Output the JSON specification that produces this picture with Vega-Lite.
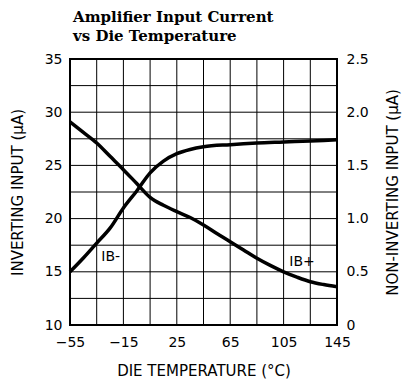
{
  "$schema": "https://vega.github.io/schema/vega-lite/v6.json",
  "autosize": "none",
  "width": 267,
  "height": 266,
  "padding": {"left": 70, "top": 59, "right": 67, "bottom": 56},
  "background": "white",
  "title": {
    "text": ["Amplifier Input Current", "vs Die Temperature"],
    "anchor": "start",
    "frame": "group",
    "font": "DejaVu Serif",
    "fontSize": 15,
    "fontWeight": "bold",
    "color": "black",
    "lineHeight": 19,
    "offset": 8,
    "dx": 3
  },
  "config": {
    "view": {"stroke": "black", "strokeWidth": 2},
    "axis": {
      "labelFont": "DejaVu Sans",
      "labelFontSize": 14,
      "labelColor": "black",
      "titleFont": "DejaVu Sans",
      "titleFontSize": 15,
      "titleFontWeight": "normal",
      "titleColor": "black",
      "ticks": false,
      "domain": false,
      "grid": false,
      "labelOverlap": false,
      "labelFlush": false
    }
  },
  "datasets": {
    "xgrid": [
      {"T": -35}, {"T": -15}, {"T": 5}, {"T": 25}, {"T": 45},
      {"T": 65}, {"T": 85}, {"T": 105}, {"T": 125}
    ],
    "ygrid": [
      {"v": 12.5}, {"v": 15}, {"v": 17.5}, {"v": 20}, {"v": 22.5},
      {"v": 25}, {"v": 27.5}, {"v": 30}, {"v": 32.5}
    ],
    "ibminus": [
      {"T": -55, "v": 15.0}, {"T": -45, "v": 16.3}, {"T": -35, "v": 17.7},
      {"T": -25, "v": 19.1}, {"T": -15, "v": 21.0}, {"T": -5, "v": 22.6},
      {"T": 5, "v": 24.3}, {"T": 15, "v": 25.4}, {"T": 25, "v": 26.1},
      {"T": 35, "v": 26.5}, {"T": 45, "v": 26.75}, {"T": 65, "v": 26.95},
      {"T": 85, "v": 27.1}, {"T": 105, "v": 27.2}, {"T": 125, "v": 27.3},
      {"T": 145, "v": 27.4}
    ],
    "ibplus": [
      {"T": -55, "v": 1.91}, {"T": -45, "v": 1.81}, {"T": -35, "v": 1.71},
      {"T": -25, "v": 1.585}, {"T": -15, "v": 1.46}, {"T": -5, "v": 1.33},
      {"T": 5, "v": 1.20}, {"T": 15, "v": 1.125}, {"T": 25, "v": 1.065},
      {"T": 35, "v": 1.01}, {"T": 45, "v": 0.94}, {"T": 55, "v": 0.86},
      {"T": 65, "v": 0.783}, {"T": 75, "v": 0.705}, {"T": 85, "v": 0.627},
      {"T": 95, "v": 0.56}, {"T": 105, "v": 0.50}, {"T": 115, "v": 0.45},
      {"T": 125, "v": 0.407}, {"T": 135, "v": 0.38}, {"T": 145, "v": 0.36}
    ],
    "labels": [
      {"T": -31.5, "v": 16.4, "label": "IB-"},
      {"T": 109.3, "v": 15.95, "label": "IB+"}
    ]
  },
  "layer": [
    {
      "layer": [
        {
          "data": {"name": "xgrid"},
          "mark": {"type": "rule", "color": "black", "strokeWidth": 1},
          "encoding": {
            "x": {
              "field": "T", "type": "quantitative",
              "scale": {"domain": [-55, 145], "nice": false, "zero": false},
              "axis": {
                "title": "DIE TEMPERATURE (°C)",
                "values": [-55, -15, 25, 65, 105, 145],
                "format": "d",
                "labelPadding": 10,
                "titlePadding": 14
              }
            }
          }
        },
        {
          "data": {"name": "ygrid"},
          "mark": {"type": "rule", "color": "black", "strokeWidth": 1},
          "encoding": {
            "y": {
              "field": "v", "type": "quantitative",
              "scale": {"domain": [10, 35], "nice": false, "zero": false},
              "axis": {
                "title": "INVERTING INPUT (μA)",
                "values": [10, 15, 20, 25, 30, 35],
                "format": "d",
                "labelPadding": 8,
                "titlePadding": 19
              }
            }
          }
        },
        {
          "data": {"name": "ibminus"},
          "mark": {"type": "line", "color": "black", "strokeWidth": 3.5, "interpolate": "monotone"},
          "encoding": {
            "x": {
              "field": "T", "type": "quantitative",
              "scale": {"domain": [-55, 145], "nice": false, "zero": false},
              "axis": {
                "title": "DIE TEMPERATURE (°C)",
                "values": [-55, -15, 25, 65, 105, 145],
                "format": "d",
                "labelPadding": 10,
                "titlePadding": 14
              }
            },
            "y": {
              "field": "v", "type": "quantitative",
              "scale": {"domain": [10, 35], "nice": false, "zero": false},
              "axis": {
                "title": "INVERTING INPUT (μA)",
                "values": [10, 15, 20, 25, 30, 35],
                "format": "d",
                "labelPadding": 8,
                "titlePadding": 19
              }
            }
          }
        },
        {
          "data": {"name": "labels"},
          "mark": {"type": "text", "align": "left", "baseline": "middle", "font": "DejaVu Sans", "fontSize": 14, "color": "black"},
          "encoding": {
            "x": {
              "field": "T", "type": "quantitative",
              "scale": {"domain": [-55, 145], "nice": false, "zero": false},
              "axis": {
                "title": "DIE TEMPERATURE (°C)",
                "values": [-55, -15, 25, 65, 105, 145],
                "format": "d",
                "labelPadding": 10,
                "titlePadding": 14
              }
            },
            "y": {
              "field": "v", "type": "quantitative",
              "scale": {"domain": [10, 35], "nice": false, "zero": false},
              "axis": {
                "title": "INVERTING INPUT (μA)",
                "values": [10, 15, 20, 25, 30, 35],
                "format": "d",
                "labelPadding": 8,
                "titlePadding": 19
              }
            },
            "text": {"field": "label"}
          }
        }
      ]
    },
    {
      "data": {"name": "ibplus"},
      "mark": {"type": "line", "color": "black", "strokeWidth": 3.5, "interpolate": "monotone"},
      "encoding": {
        "x": {
          "field": "T", "type": "quantitative",
          "scale": {"domain": [-55, 145], "nice": false, "zero": false},
          "axis": {
            "title": "DIE TEMPERATURE (°C)",
            "values": [-55, -15, 25, 65, 105, 145],
            "format": "d",
            "labelPadding": 10,
            "titlePadding": 14
          }
        },
        "y": {
          "field": "v", "type": "quantitative",
          "scale": {"domain": [0, 2.5], "nice": false, "zero": false},
          "axis": {
            "title": "NON-INVERTING INPUT (μA)",
            "orient": "right",
            "values": [0, 0.5, 1, 1.5, 2, 2.5],
            "labelExpr": "datum.value == 0 ? '0' : format(datum.value, '.1f')",
            "labelPadding": 9,
            "titleAngle": 270,
            "titlePadding": 32
          }
        }
      }
    }
  ],
  "resolve": {"scale": {"y": "independent"}}
}
